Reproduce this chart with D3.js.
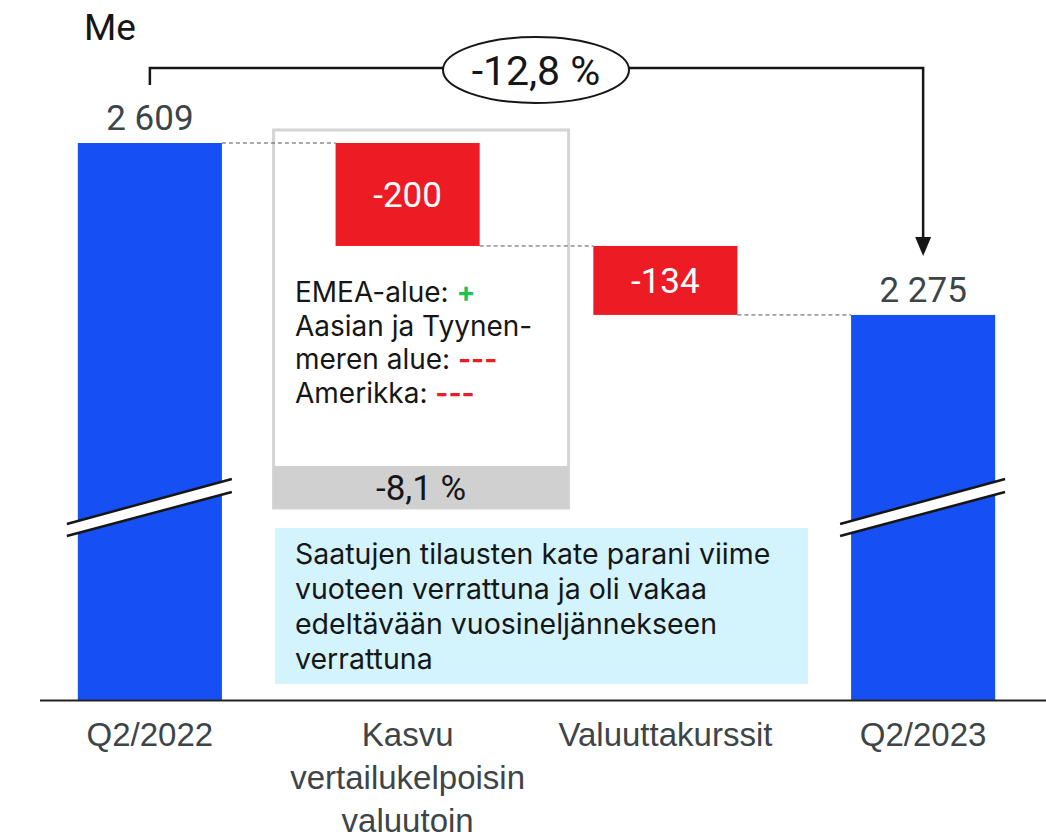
<!DOCTYPE html>
<html>
<head>
<meta charset="utf-8">
<script src="https://cdn.jsdelivr.net/npm/d3@7"></script>
<style>
  body { margin: 0; background: #fff; }
  svg { display: block; }
</style>
</head>
<body>
<script>
// data //
var categories = ["Q2/2022", "Kasvu vertailukelpoisin valuutoin", "Valuuttakurssit", "Q2/2023"];
var axisLabels = [["Q2/2022"], ["Kasvu", "vertailukelpoisin", "valuutoin"], ["Valuuttakurssit"], ["Q2/2023"]];
var values = [2609, -200, -134, 2275];
var kinds = ["total", "delta", "delta", "total"];
var valueLabels = ["2 609", "-200", "-134", "2 275"];
var unitLabel = "Me";
var changeLabel = "-12,8 %";
var growthPct = "-8,1 %";
var regionNotes = [
  [{t: "EMEA-alue: "}, {t: "+", c: "green"}],
  [{t: "Aasian ja Tyynen-"}],
  [{t: "meren alue: "}, {t: "---", c: "red"}],
  [{t: "Amerikka: "}, {t: "---", c: "red"}]
];
var noteLines = ["Saatujen tilausten kate parani viime", "vuoteen verrattuna ja oli vakaa",
  "edeltävään vuosineljännekseen", "verrattuna"];

var width = 1046, height = 839;
var blue = "#1650f5", red = "#ed1c24", ink = "#161616", grey = "#3d4548";

// waterfall start/end
var rows = [];
var run = 0;
for (var i = 0; i < values.length; i++) {
  var d = {cat: categories[i], kind: kinds[i], label: valueLabels[i], axis: axisLabels[i]};
  if (kinds[i] === "total") { d.y0 = null; d.y1 = values[i]; run = values[i]; }
  else { d.y0 = run; d.y1 = run + values[i]; run = d.y1; }
  rows.push(d);
}

var x = d3.scaleBand().domain(categories).range([21, 1052]).paddingInner(0.441).paddingOuter(0.2205);
var y = d3.scaleLinear().domain([1527, 2609]).range([700, 143]); // broken axis, starts above zero
var bw = x.bandwidth();

var svg = d3.select("body").append("svg")
  .attr("width", width).attr("height", height)
  .attr("font-family", "'Liberation Sans', Arial, sans-serif");

// grey box behind growth bar
var gx = x(categories[1]);
svg.append("rect").attr("x", gx - 62).attr("y", 130).attr("width", 295).attr("height", 378)
  .attr("fill", "#fff").attr("stroke", "#d4d4d4").attr("stroke-width", 3);
svg.append("rect").attr("x", gx - 62).attr("y", 466).attr("width", 295).attr("height", 42)
  .attr("fill", "#d0d0d0");
svg.append("text").attr("x", gx - 62 + 147.5).attr("y", 500).attr("text-anchor", "middle")
  .attr("font-family", "Roboto, sans-serif").attr("font-size", 35).attr("fill", ink).text(growthPct);

// region notes
var notes = svg.append("text").attr("font-family", "Inter, sans-serif").attr("font-size", 28).attr("fill", ink);
regionNotes.forEach(function(line, li) {
  line.forEach(function(part, pi) {
    var ts = notes.append("tspan").text(part.t);
    if (pi === 0) ts.attr("x", 295).attr("y", 302 + li * 33.5);
    if (part.c === "green") ts.attr("fill", "#1fc25a").attr("font-weight", "bold");
    if (part.c === "red") ts.attr("fill", red).attr("font-weight", "bold");
  });
});

// bars
svg.append("g").selectAll("rect").data(rows).join("rect")
  .attr("x", d => x(d.cat))
  .attr("y", d => d.kind === "total" ? y(d.y1) : y(Math.max(d.y0, d.y1)))
  .attr("width", bw)
  .attr("height", d => d.kind === "total" ? y.range()[0] - y(d.y1) : Math.abs(y(d.y0) - y(d.y1)))
  .attr("fill", d => d.kind === "total" ? blue : red);

// dashed connectors
svg.append("g").selectAll("line").data(rows.slice(0, -1)).join("line")
  .attr("x1", d => x(d.cat) + bw)
  .attr("x2", (d, i) => x(rows[i + 1].cat))
  .attr("y1", d => y(d.y1)).attr("y2", d => y(d.y1))
  .attr("stroke", "#555").attr("stroke-width", 1).attr("stroke-dasharray", "4,3");

// axis break marks on total bars
var brk = svg.append("g").selectAll("g").data(rows.filter(d => d.kind === "total")).join("g")
  .attr("transform", d => `translate(${x(d.cat)},0)`);
brk.append("path").attr("d", "M-11,524L154,479L154,492L-11,536Z").attr("fill", "#fff");
brk.append("path").attr("d", "M-11,524L154,479M-11,536L154,492").attr("stroke", ink).attr("stroke-width", 2.5).attr("fill", "none");

// value labels
svg.append("g").selectAll("text").data(rows).join("text")
  .attr("x", d => x(d.cat) + bw / 2)
  .attr("y", d => d.kind === "total" ? y(d.y1) - 13 : (y(d.y0) + y(d.y1)) / 2 + 13)
  .attr("text-anchor", "middle").attr("font-size", 35)
  .attr("font-family", "Roboto, sans-serif")
  .attr("fill", d => d.kind === "total" ? grey : "#fff")
  .text(d => d.label);

// baseline
svg.append("line").attr("x1", 40).attr("x2", width).attr("y1", 700.5).attr("y2", 700.5)
  .attr("stroke", "#222").attr("stroke-width", 2);

// category labels
var xAxis = svg.append("g").attr("transform", "translate(0,700)")
  .call(d3.axisBottom(x).tickSize(0).tickFormat(""));
xAxis.select(".domain").remove();
xAxis.selectAll(".tick text").remove();
xAxis.selectAll(".tick").append("text")
  .attr("fill", grey).attr("font-size", 33).attr("text-anchor", "middle")
  .attr("font-family", "'Liberation Sans', Arial, sans-serif")
  .each(function(c) {
    var lines = rows.find(r => r.cat === c).axis;
    d3.select(this).selectAll("tspan").data(lines).join("tspan")
      .attr("x", 0).attr("y", (l, k) => 46 + k * 43).text(l => l);
  });

// note box
svg.append("rect").attr("x", 275).attr("y", 528).attr("width", 533).attr("height", 156).attr("fill", "#d3f4fd");
svg.append("text").attr("font-family", "Inter, sans-serif").attr("font-size", 28.5).attr("fill", ink)
  .selectAll("tspan").data(noteLines).join("tspan")
  .attr("x", 295).attr("y", (l, k) => 564 + k * 35).text(l => l);

// unit
svg.append("text").attr("x", 84).attr("y", 40).attr("font-size", 37).attr("fill", ink)
  .attr("font-family", "Roboto, sans-serif").text(unitLabel);

// change bracket with arrow
var xa = x(categories[0]) + bw / 2, xb = x(categories[3]) + bw / 2;
svg.append("path").attr("d", `M${xa},85V68H${xb}V238`).attr("fill", "none")
  .attr("stroke", ink).attr("stroke-width", 2.5);
svg.append("path").attr("d", `M${xb - 8},237L${xb + 8},237L${xb},256Z`).attr("fill", ink);
svg.append("ellipse").attr("cx", 536).attr("cy", 70).attr("rx", 93).attr("ry", 33)
  .attr("fill", "#fff").attr("stroke", ink).attr("stroke-width", 2);
svg.append("text").attr("x", 536).attr("y", 85).attr("text-anchor", "middle")
  .attr("font-family", "Roboto, sans-serif").attr("font-size", 41).attr("fill", ink).text(changeLabel);
</script>
</body>
</html>
